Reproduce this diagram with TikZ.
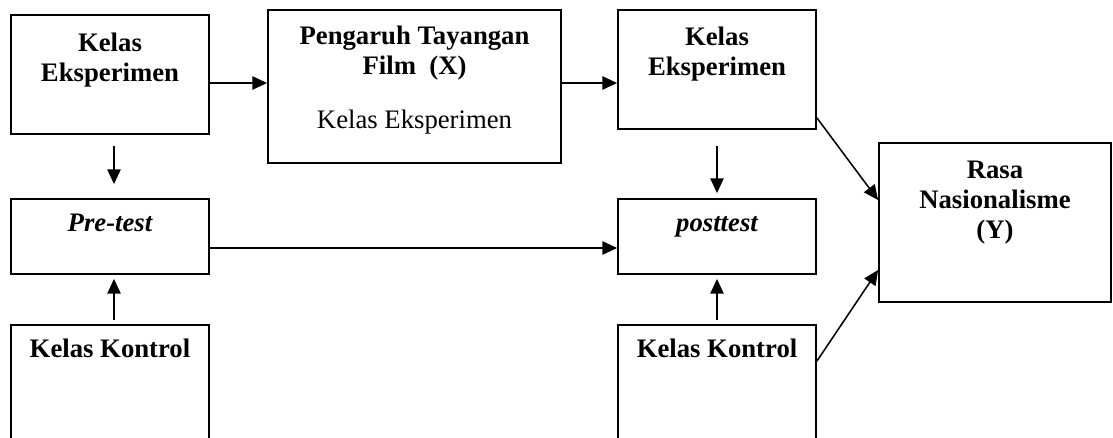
\documentclass[tikz,border=0pt]{standalone}
\usepackage{fontspec}
\setmainfont{Liberation Serif}
\usetikzlibrary{arrows.meta,positioning}

\tikzset{
  kotak/.style={draw, line width=1.3pt, inner sep=0pt, minimum width=4.95cm},
  isi/.style={font=\fontsize{19}{21.5}\selectfont\bfseries, align=center, inner sep=0pt},
}

\begin{document}
\begin{tikzpicture}[>={Triangle[length=10.5pt,width=9.5pt]}, line width=1.1pt]
\useasboundingbox (0,0) rectangle (27.825,-10.95);
\clip (0,0) rectangle (27.825,-10.95);
\node[kotak, minimum height=2.975cm] (eks1) at (2.75,-1.8625) {};
\node[kotak, minimum width=7.325cm, minimum height=3.825cm] (film) at (10.3625,-2.1625) {};
\node[kotak, minimum height=2.975cm] (eks2) at (17.925,-1.7375) {};
\node[kotak, minimum width=5.8cm, minimum height=3.975cm] (rasa) at (24.875,-5.5625) {};
\node[kotak, minimum height=1.875cm] (pre) at (2.75,-5.9125) {};
\node[kotak, minimum height=1.875cm] (post) at (17.925,-5.9125) {};
\node[kotak, minimum height=3.875cm] (kon1) at (2.75,-10.0625) {};
\node[kotak, minimum height=3.875cm] (kon2) at (17.925,-10.0625) {};

\node[isi, anchor=north] (t1) at ([yshift=-0.45cm]eks1.north) {Kelas\\Eksperimen};
\node[isi, anchor=north] (t2) at ([yshift=-0.4cm]film.north) {Pengaruh Tayangan\\Film\ \ (X)\\[17pt]\mdseries Kelas Eksperimen};
\node[isi, anchor=north] (t3) at ([yshift=-0.43cm]eks2.north) {Kelas\\Eksperimen};
\node[isi, anchor=north] (t4) at ([yshift=-0.45cm]rasa.north) {Rasa\\Nasionalisme\\(Y)};
\node[isi, anchor=base] (t5) at ([yshift=-0.825cm]pre.north) {\itshape Pre-test};
\node[isi, anchor=base] (t6) at ([yshift=-0.825cm]post.north) {\itshape posttest};
\node[isi, anchor=base] (t7) at ([yshift=-0.825cm]kon1.north) {Kelas Kontrol};
\node[isi, anchor=base] (t8) at ([yshift=-0.825cm]kon2.north) {Kelas Kontrol};

\path
([yshift=-0.2125cm]eks1.east) edge[->] ([yshift=0.0875cm]film.west)
([yshift=0.0875cm]film.east) edge[->] ([yshift=-0.3375cm]eks2.west)
([xshift=0.1cm,yshift=-0.275cm]eks1.south) edge[->] ([xshift=0.1cm,yshift=0.35cm]pre.north)
([xshift=0.1cm,yshift=0.1cm]kon1.north) edge[->] ([xshift=0.1cm,yshift=-0.1cm]pre.south)
([yshift=-0.4cm]eks2.south) edge[->] ([yshift=0.125cm]post.north)
([yshift=0.1cm]kon2.north) edge[->] ([yshift=-0.1cm]post.south)
([yshift=-0.2875cm]pre.east) edge[->] ([yshift=-0.2875cm]post.west)
([yshift=0.3cm]eks2.south east) edge[->] ([yshift=0.5625cm]rasa.west)
([yshift=-0.925cm]kon2.north east) edge[->] ([yshift=-1.1875cm]rasa.west);
\end{tikzpicture}
\end{document}
